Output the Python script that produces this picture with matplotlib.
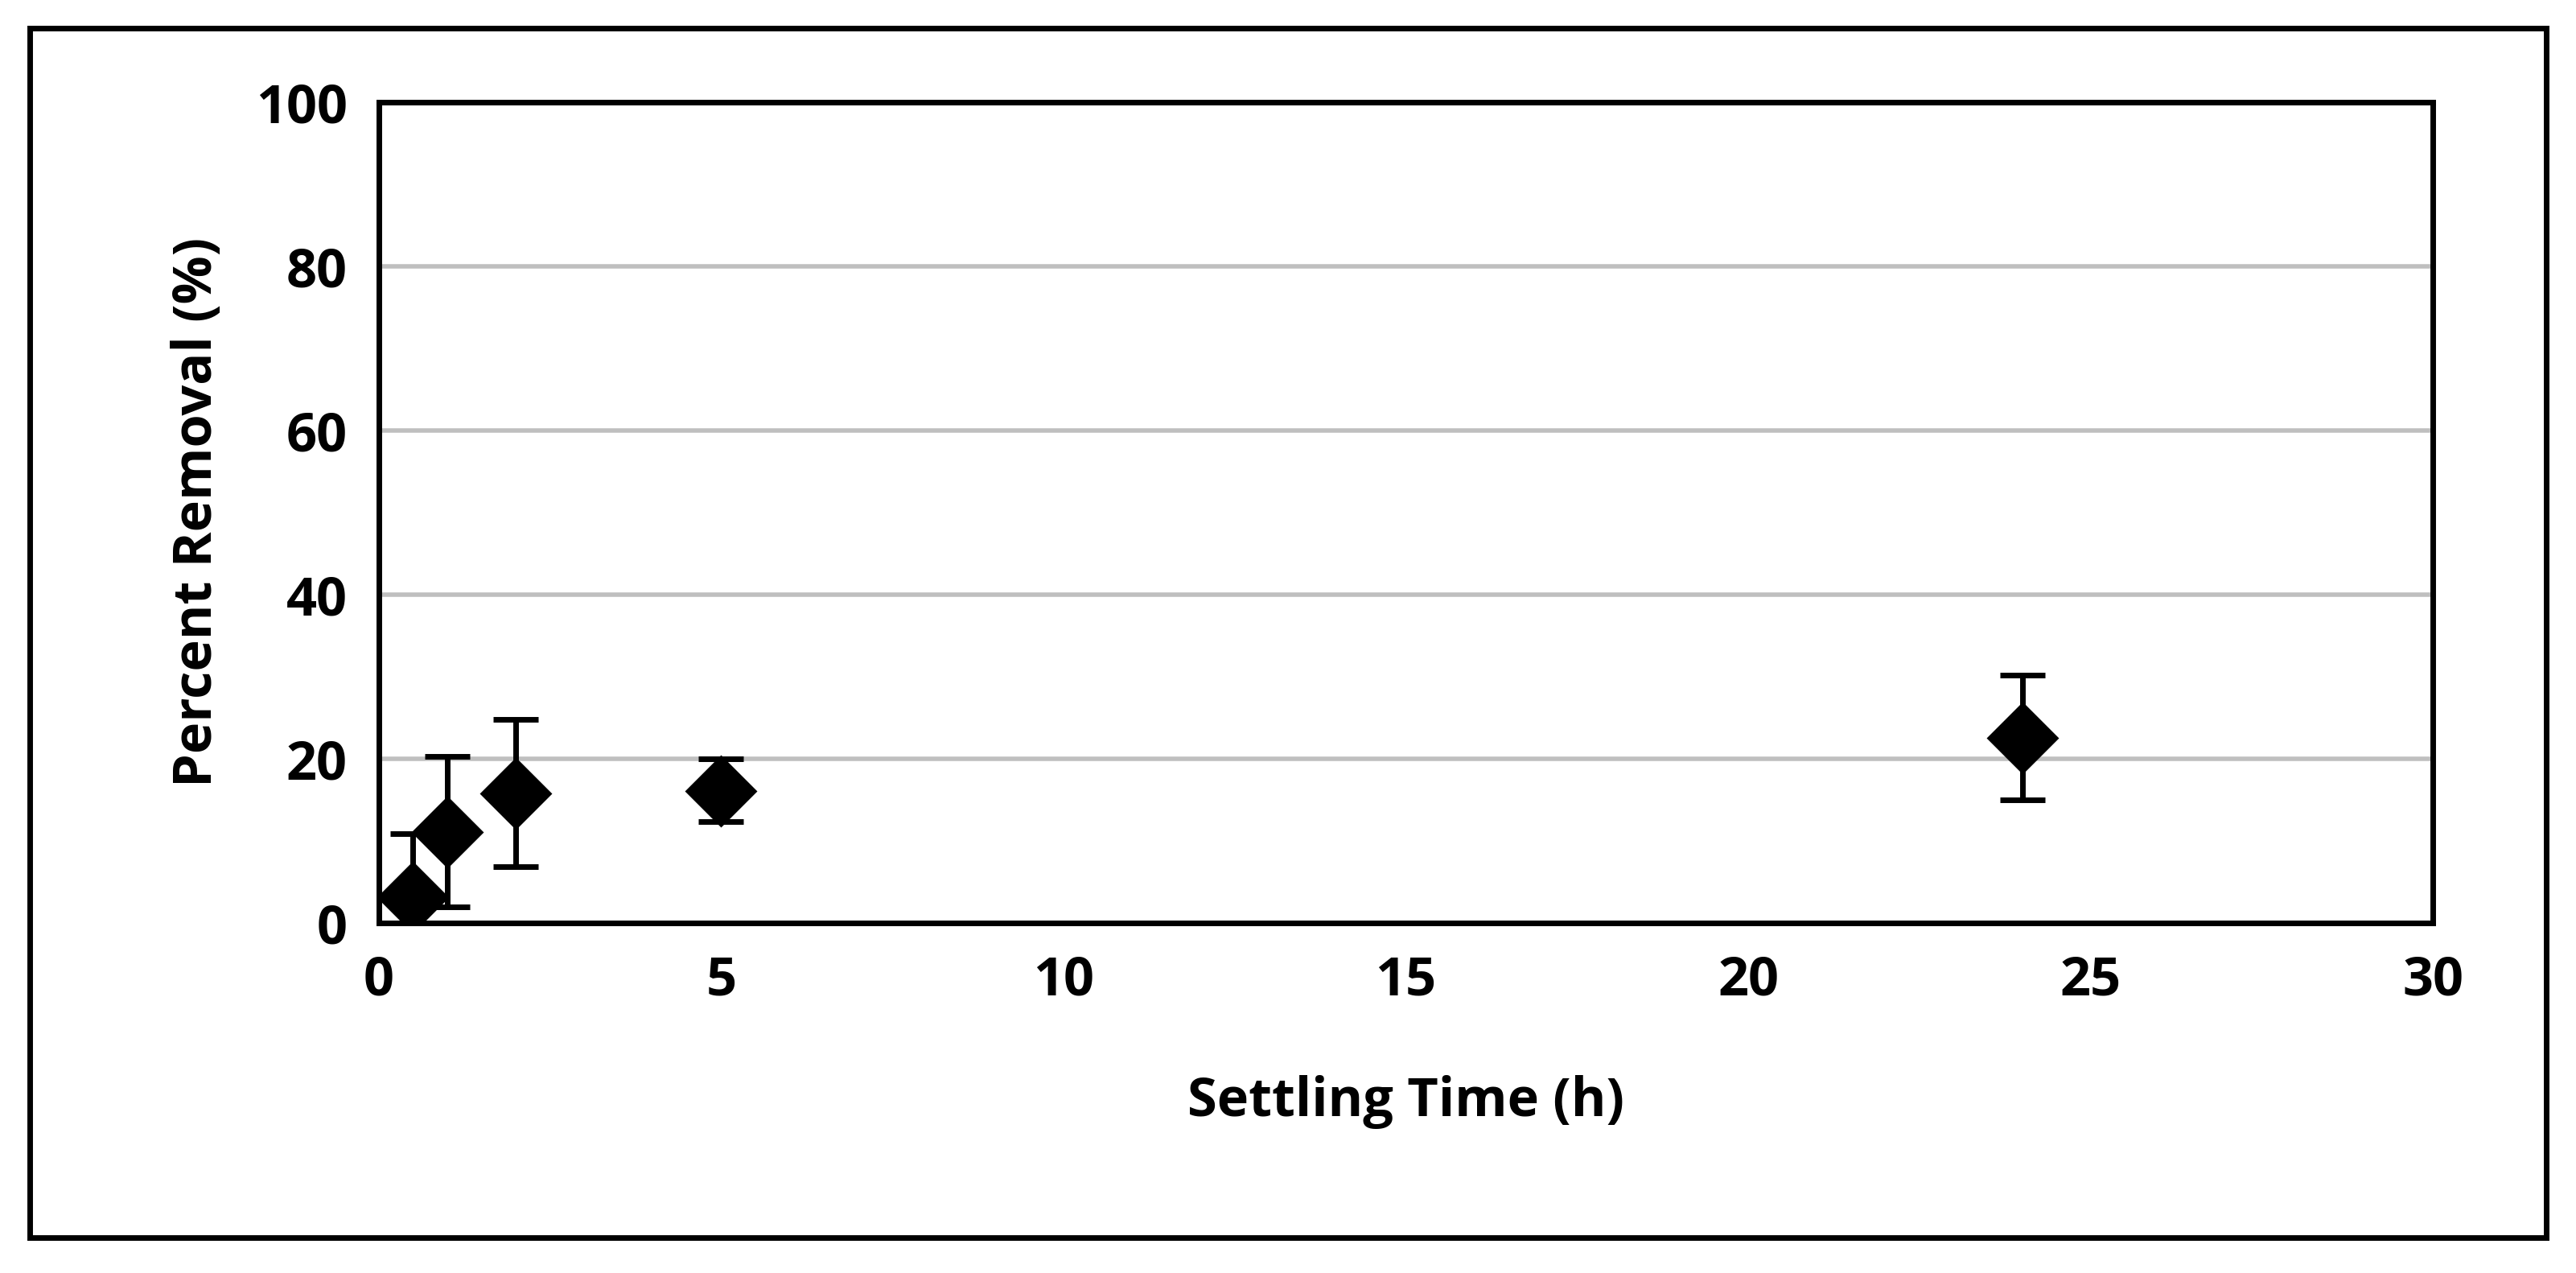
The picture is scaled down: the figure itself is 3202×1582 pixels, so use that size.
import matplotlib
matplotlib.use("Agg")
import matplotlib.pyplot as plt
from matplotlib.patches import Rectangle

time_h = [0.5, 1, 2, 5, 24]
removal = [3.1, 11.1, 15.8, 16.1, 22.5]
err_low = [7.8, 9.1, 8.9, 3.8, 7.5]
err_high = [7.8, 9.2, 9.0, 3.9, 7.7]

plt.rcParams['font.family'] = ['Open Sans', 'DejaVu Sans']
fig = plt.figure(figsize=(16.01, 7.91), dpi=200)
ax = fig.add_axes([0.147, 0.275, 0.7975, 0.645])
ax.errorbar(time_h, removal, yerr=[err_low, err_high], fmt='D', color='black',
            ms=22, capsize=10, capthick=2.5, elinewidth=2.5, zorder=3)
ax.set_xlim(0, 30)
ax.set_ylim(0, 100)
ax.set_xticks(range(0, 31, 5))
ax.set_yticks(range(0, 101, 20))
ax.yaxis.grid(True, color='#bfbfbf', linewidth=2)
ax.set_axisbelow(True)
for s in ax.spines.values():
    s.set_linewidth(2.5)
ax.tick_params(length=0, labelsize=24, pad=14)
for lab in ax.get_xticklabels() + ax.get_yticklabels():
    lab.set_fontweight('bold')
ax.set_xlabel('Settling Time (h)', fontsize=24, fontweight='bold', labelpad=30)
ax.set_ylabel('Percent Removal (%)', fontsize=24, fontweight='bold', labelpad=14)
fig.patches.append(Rectangle((0.0115, 0.028), 0.977, 0.95, transform=fig.transFigure,
                             fill=False, edgecolor='black', linewidth=2.5))
fig.savefig('out.png', dpi=200)
